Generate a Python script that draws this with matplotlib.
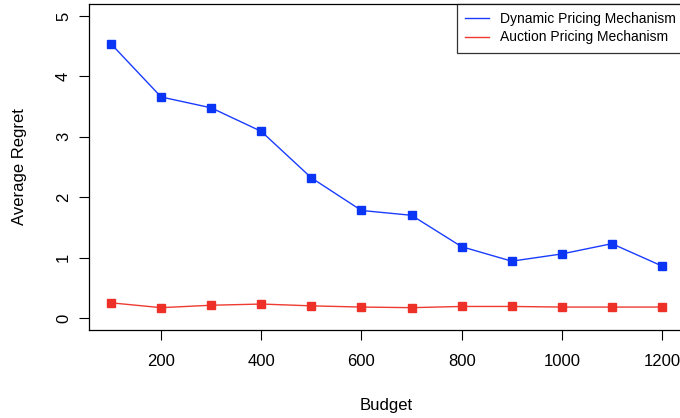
import matplotlib.pyplot as plt

budget = [100, 200, 300, 400, 500, 600, 700, 800, 900, 1000, 1100, 1200]
dynamic_regret = [4.54, 3.66, 3.48, 3.09, 2.32, 1.78, 1.70, 1.18, 0.94, 1.06, 1.23, 0.86]
auction_regret = [0.25, 0.17, 0.21, 0.23, 0.20, 0.18, 0.17, 0.19, 0.19, 0.18, 0.18, 0.18]

plt.rcParams['font.family'] = ['Liberation Sans', 'DejaVu Sans']

fig = plt.figure(figsize=(6.8, 4.18), dpi=100)
ax = fig.add_axes([89 / 680, 88 / 418, 595 / 680, 326 / 418])

ax.plot(budget, dynamic_regret, '-', color='#1a3cff', linewidth=1,
        label='Dynamic Pricing Mechanism')
ax.plot(budget, dynamic_regret, 's', color='#0a35f5', markersize=6, linestyle='none')
ax.plot(budget, auction_regret, '-', color='#ee3a30', linewidth=1,
        label='Auction Pricing Mechanism')
ax.plot(budget, auction_regret, 's', color='#ee3128', markersize=6, linestyle='none')

ax.set_xlim(56, 1244)
ax.set_ylim(-0.2, 5.2)
ax.set_xticks([200, 400, 600, 800, 1000, 1200])
ax.set_yticks([0, 1, 2, 3, 4, 5])
ax.tick_params(axis='both', direction='out', length=7, width=0.8, labelsize=12)
ax.tick_params(axis='x', pad=10)
ax.tick_params(axis='y', pad=6)
for lbl in ax.get_yticklabels():
    lbl.set_rotation(90)
    lbl.set_va('center')
for s in ax.spines.values():
    s.set_linewidth(0.9)

ax.set_xlabel('Budget', fontsize=12, labelpad=21)
ax.set_ylabel('Average Regret', fontsize=12, labelpad=21)

leg = ax.legend(loc='upper right', bbox_to_anchor=(1, 1), borderaxespad=0,
                fancybox=False, edgecolor='black', fontsize=10,
                handlelength=1.75, handletextpad=0.75, borderpad=0.6,
                labelspacing=0.3)
leg.get_frame().set_linewidth(0.9)

fig.savefig('out.png', dpi=100)
